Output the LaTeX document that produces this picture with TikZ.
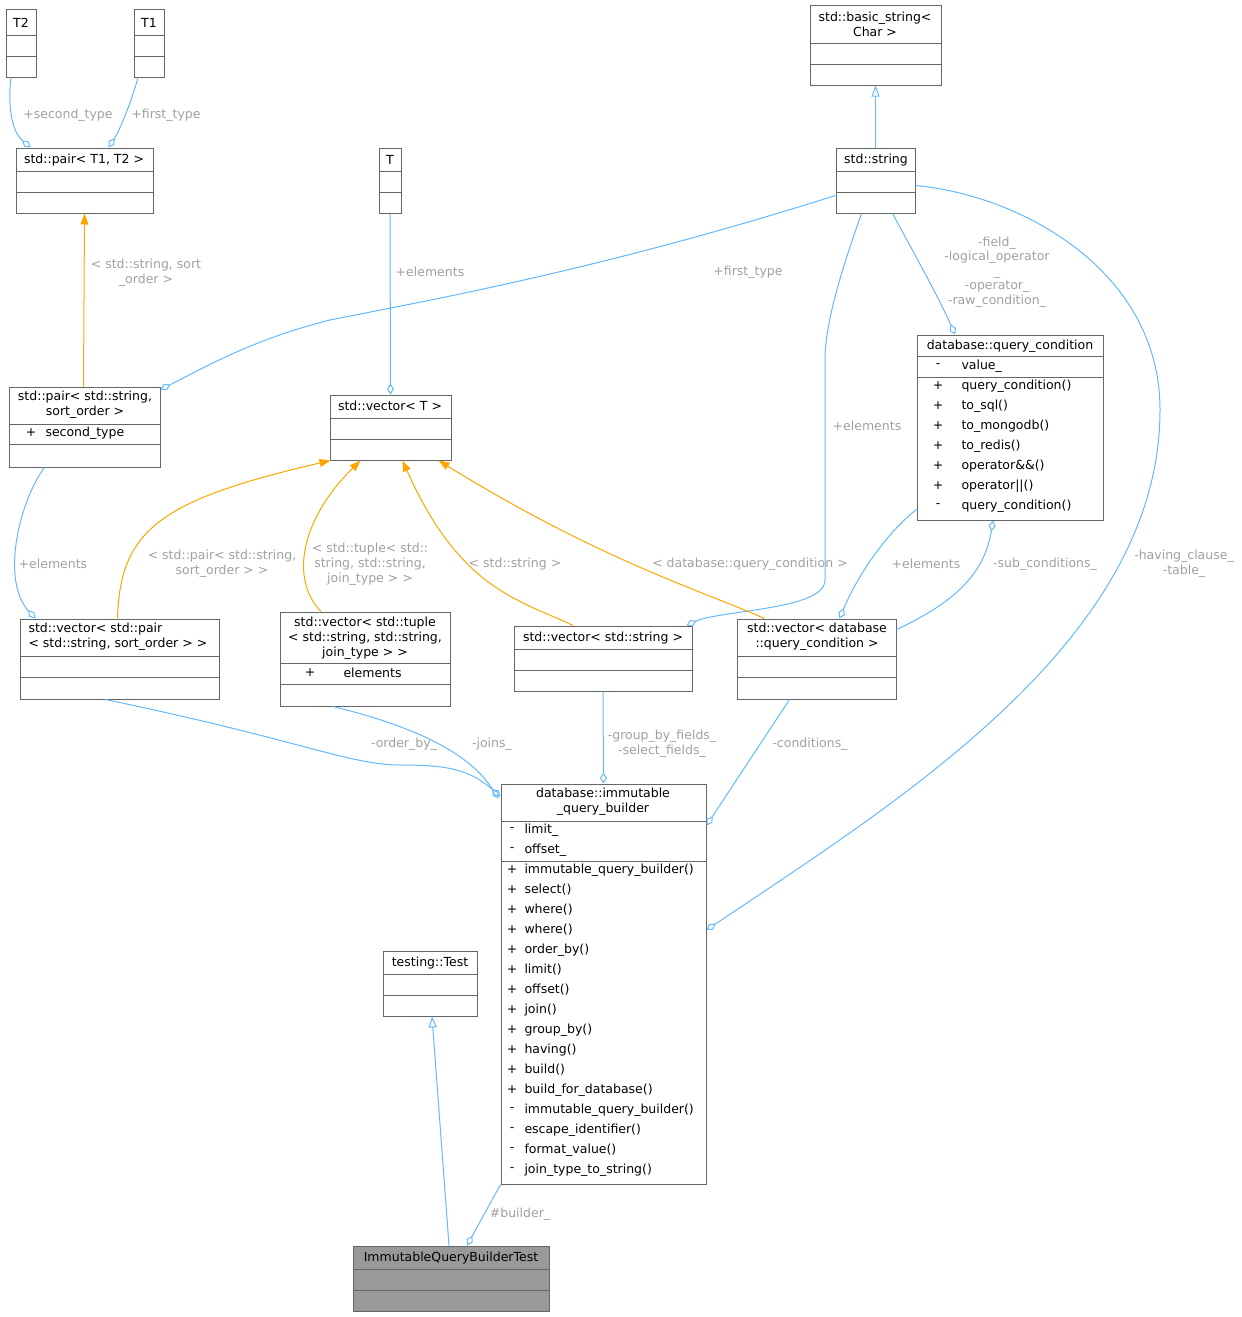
\documentclass[tikz,border=0pt]{standalone}
\usepackage{fontspec}
\setmainfont{DejaVu Sans}
\usetikzlibrary{arrows.meta,fit}
\definecolor{bl}{HTML}{63B8FF}
\definecolor{og}{HTML}{FFA500}
\definecolor{lg}{HTML}{A0A0A0}
\definecolor{bc}{HTML}{666666}
\newcommand\umlbox[6][white]{\node[draw=bc,fill=#1,inner sep=0,fit={(#3,#4)(#5,#6)}] (#2) {};}
\newcommand\sepl[3]{\draw[bc] (#1,#3)--(#2,#3);}
\begin{document}
\begin{tikzpicture}[x=1pt,y=-1pt,line width=1pt,
  every node/.style={font=\fontsize{12.5}{15}\selectfont},
  t/.style={inner sep=0,align=center},
  a/.style={inner sep=0,anchor=west},
  lab/.style={inner sep=0,align=center,text=lg},
  agg/.style={bl,-{Diamond[open,length=11pt,width=7pt]}},
  inh/.style={bl,-{Triangle[open,length=11pt,width=8pt]}},
  tmp/.style={og,-{Triangle[length=11pt,width=8pt]}}]
\useasboundingbox (0,0) rectangle (1242,1317);
% boxes
\umlbox{T2}{6}{9}{36}{77}\sepl{6}{36}{35}\sepl{6}{36}{56}\node[t] at (21,23) {T2};
\umlbox{T1}{134}{9}{164}{77}\sepl{134}{164}{35}\sepl{134}{164}{56}\node[t] at (149,23) {T1};
\umlbox{bs}{810}{5}{941}{85}\sepl{810}{941}{43}\sepl{810}{941}{64}\node[t] at (875,24) {std::basic\_string\textless\\Char \textgreater};
\umlbox{pTT}{16}{148}{153}{213}\sepl{16}{153}{171}\sepl{16}{153}{192}\node[t] at (84,160) {std::pair\textless{} T1, T2 \textgreater};
\umlbox{T}{379}{148}{401}{213}\sepl{379}{401}{171}\sepl{379}{401}{192}\node[t] at (390,160) {T};
\umlbox{str}{836}{148}{915}{213}\sepl{836}{915}{171}\sepl{836}{915}{192}\node[t] at (876,160) {std::string};
\umlbox{qc}{917}{335}{1103}{520}\sepl{917}{1103}{356}\sepl{917}{1103}{377}
\node[t] at (1010,346) {database::query\_condition};
\foreach \m/\n [count=\i from 0] in {-/value\_,+/query\_condition(),+/to\_sql(),+/to\_mongodb(),+/to\_redis(),+/operator\&\&(),+/operator||(),-/query\_condition()}
 {\node[t] at (938,366+20*\i) {\m};\node[a] at (961,366+20*\i) {\n};}
\umlbox{pss}{9}{387}{160}{467}\sepl{9}{160}{424}\sepl{9}{160}{444}
\node[t] at (85,405) {std::pair\textless{} std::string,\\sort\_order \textgreater};
\node[t] at (31,433) {+};\node[a] at (45,433) {second\_type};
\umlbox{vT}{330}{395}{451}{460}\sepl{330}{451}{418}\sepl{330}{451}{439}\node[t] at (390,406) {std::vector\textless{} T \textgreater};
\umlbox{vp}{20}{619}{219}{699}\sepl{20}{219}{656}\sepl{20}{219}{677}
\node[a,align=left] at (28,637) {std::vector\textless{} std::pair\\\textless{} std::string, sort\_order \textgreater{} \textgreater};
\umlbox{vt}{280}{612}{450}{706}\sepl{280}{450}{663}\sepl{280}{450}{684}
\node[t] at (365,638) {std::vector\textless{} std::tuple\\\textless{} std::string, std::string,\\join\_type \textgreater{} \textgreater};
\node[t] at (310,673) {+};\node[a] at (343,673) {elements};
\umlbox{vs}{514}{626}{692}{691}\sepl{514}{692}{649}\sepl{514}{692}{670}\node[t] at (603,638) {std::vector\textless{} std::string \textgreater};
\umlbox{vq}{737}{619}{896}{699}\sepl{737}{896}{656}\sepl{737}{896}{677}
\node[t] at (817,637) {std::vector\textless{} database\\::query\_condition \textgreater};
\umlbox{qb}{501}{784}{706}{1184}\sepl{501}{706}{821}\sepl{501}{706}{861}
\node[t] at (603,802) {database::immutable\\\_query\_builder};
\foreach \m/\n [count=\i from 0] in {-/limit\_,-/offset\_,+/immutable\_query\_builder(),+/select(),+/where(),+/where(),+/order\_by(),+/limit(),+/offset(),+/join(),+/group\_by(),+/having(),+/build(),+/build\_for\_database(),-/immutable\_query\_builder(),-/escape\_identifier(),-/format\_value(),-/join\_type\_to\_string()}
 {\node[t] at (512,830+20*\i) {\m};\node[a] at (524,830+20*\i) {\n};}
\umlbox{tt}{383}{951}{477}{1016}\sepl{383}{477}{974}\sepl{383}{477}{995}\node[t] at (430,963) {testing::Test};
\umlbox[gray!80]{iq}{353}{1246}{549}{1311}\sepl{353}{549}{1269}\sepl{353}{549}{1290}\node[t] at (451,1258) {ImmutableQueryBuilderTest};
% edges
\draw[agg] ([xshift=-10pt]T2.south) .. controls (8,100) and (10,130) .. ([xshift=-54pt]pTT.north);
\node[lab] at (68,115) {+second\_type};
\draw[agg] ([xshift=-11pt]T1.south) .. controls (132,100) and (120,130) .. ([xshift=24pt]pTT.north);
\node[lab] at (166,115) {+first\_type};
\draw[inh] (str.north) -- (str.north |- bs.south);
\draw[tmp] ([xshift=-1pt]pss.north) -- (pTT.south);
\node[lab] at (146,273) {\textless{} std::string, sort\\\_order \textgreater};
\draw[agg] (T.south) -- (vT.north);
\node[lab] at (430,272) {+elements};
\draw[agg] ([yshift=-15pt]str.west) .. controls (600,270) and (430,300) .. (330,320) .. controls (250,340) and (200,370) .. ([yshift=-3pt]pss.north east);
\node[lab] at (748,272) {+first\_type};
\draw[agg] ([xshift=17pt]str.south) .. controls (915,255) and (940,300) .. ([xshift=-55pt]qc.north);
\node[lab,font=\fontsize{12.5}{14.5}\selectfont] at (997,272) {-field\_\\-logical\_operator\\\_\\-operator\_\\-raw\_condition\_};
\draw[agg] ([xshift=-14pt]str.south) .. controls (845,260) and (825,320) .. (825,360) -- (825,580) .. controls (825,610) and (720,610) .. ([xshift=-6pt]vs.north east);
\node[lab] at (867,426) {+elements};
\draw[agg] ([yshift=-5pt]str.east) .. controls (1020,195) and (1160,270) .. (1160,410) .. controls (1160,640) and (900,800) .. ([yshift=54pt]qb.east);
\node[lab] at (1184,564) {-having\_clause\_\\-table\_};
\draw[tmp] ([xshift=-2pt]vp.north) .. controls (120,530) and (160,500) .. ([xshift=-60pt]vT.south);
\node[lab] at (222,564) {\textless{} std::pair\textless{} std::string,\\sort\_order \textgreater{} \textgreater};
\draw[tmp] ([xshift=-44pt]vt.north) .. controls (290,580) and (300,520) .. ([xshift=-30pt]vT.south);
\node[lab] at (370,564) {\textless{} std::tuple\textless{} std::\\string, std::string,\\join\_type \textgreater{} \textgreater};
\draw[tmp] ([xshift=-30pt]vs.north) .. controls (520,600) and (460,590) .. ([xshift=12pt]vT.south);
\node[lab] at (515,564) {\textless{} std::string \textgreater};
\draw[tmp] ([xshift=-52pt]vq.north) .. controls (700,590) and (600,560) .. ([xshift=48pt]vT.south);
\node[lab] at (750,564) {\textless{} database::query\_condition \textgreater};
\draw[agg] ([xshift=-40pt]pss.south) .. controls (20,500) and (0,580) .. ([xshift=-84pt]vp.north);
\node[lab] at (53,564) {+elements};
\draw[agg] ([yshift=-175pt]qc.north west) .. controls (890,530) and (860,570) .. ([xshift=23pt]vq.north);
\node[lab] at (926,564) {+elements};
\draw[agg] ([yshift=-11pt]vq.north east) .. controls (960,600) and (985,570) .. ([xshift=-17pt]qc.south);
\node[lab] at (1045,564) {-sub\_conditions\_};
\draw[agg] ([xshift=-14pt]vp.south) .. controls (300,740) and (350,765) .. (400,765) .. controls (450,765) and (470,770) .. ([yshift=-13pt]qb.north west);
\node[lab] at (404,744) {-order\_by\_};
\draw[agg] ([xshift=-32pt]vt.south) .. controls (450,735) and (480,770) .. ([yshift=-15pt,xshift=-2pt]qb.north west);
\node[lab] at (492,744) {-joins\_};
\draw[agg] (vs.south) -- (qb.north);
\node[lab] at (662,744) {-group\_by\_fields\_\\-select\_fields\_};
\draw[agg] ([xshift=-27pt]vq.south) -- ([yshift=-42pt]qb.north east);
\node[lab] at (810,744) {-conditions\_};
\draw[inh] ([xshift=-2pt]iq.north) -- ([xshift=2pt]tt.south);
\draw[agg] (qb.south west) -- ([xshift=16pt]iq.north);
\node[lab] at (520,1214) {\#builder\_};
\end{tikzpicture}
\end{document}
